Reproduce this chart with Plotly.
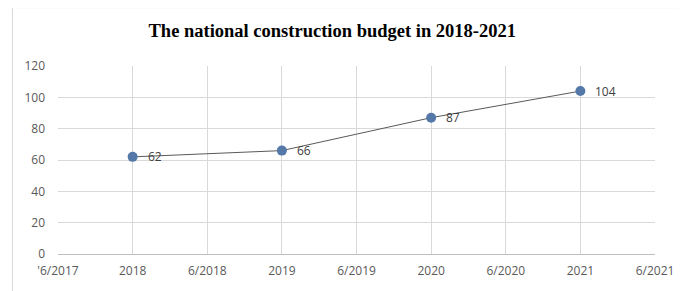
import plotly.graph_objects as go

years = [2018, 2019, 2020, 2021]
budget = [62, 66, 87, 104]
labels = ["62", "66", "87", "104"]
xtick_vals = [2017.5, 2018, 2018.5, 2019, 2019.5, 2020, 2020.5, 2021, 2021.5]
xtick_text = ["'6/2017", "2018", "6/2018", "2019", "6/2019", "2020", "6/2020", "2021", "6/2021"]
ytick_vals = [0, 20, 40, 60, 80, 100, 120]

OFF = 8  # page body margin
W, H = 686 - OFF, 291 - OFF
L, T = 58 - OFF, 66 - OFF
R = 686 - 661
B = 291 - 256
pw, ph = W - L - R, H - T - B

fig = go.Figure()
fig.add_trace(go.Scatter(
    x=years, y=budget, mode="lines+markers",
    line=dict(color="#595959", width=1),
    marker=dict(color="#5479A8", size=10),
    cliponaxis=False,
))
for xv, yv, t in zip(years, budget, labels):
    fig.add_annotation(x=xv, y=yv, text=t, showarrow=False,
                       xanchor="left", yanchor="middle", xshift=13,
                       font=dict(family="Open Sans", size=12, color="#404040"))

fig.update_layout(
    width=W, height=H,
    margin=dict(l=L, r=R, t=T, b=B),
    paper_bgcolor="white", plot_bgcolor="white",
    showlegend=False,
    title=dict(text="<b>The national construction budget in 2018-2021</b>",
               font=dict(family="Liberation Serif", size=18.5, color="black"),
               x=(335 - 58) / pw, xref="paper", xanchor="center",
               y=1 - (31 - OFF) / H, yref="container", yanchor="middle"),
    font=dict(family="Open Sans", size=12, color="#595959"),
    xaxis=dict(range=[2017.5, 2021.5], tickvals=xtick_vals, ticktext=xtick_text,
               showgrid=True, gridcolor="#d9d9d9", gridwidth=1,
               zeroline=False, showline=True, linecolor="#bfbfbf",
               ticks="", ticklabelstandoff=6, tickfont=dict(size=12, color="#595959")),
    yaxis=dict(range=[0, 120], tickvals=ytick_vals,
               showgrid=True, gridcolor="#d9d9d9", gridwidth=1,
               zeroline=False, showline=False,
               ticks="", ticklabelstandoff=12, tickfont=dict(size=12, color="#595959")),
    shapes=[dict(type="rect", xref="paper", yref="paper",
                 x0=(12 - 58) / pw, x1=(700 - 58) / pw,
                 y0=-(40) / ph, y1=1 + (66 - 7) / ph,
                 line=dict(color="#d9d9d9", width=1), layer="below")],
)

fig.write_html("out.html")
